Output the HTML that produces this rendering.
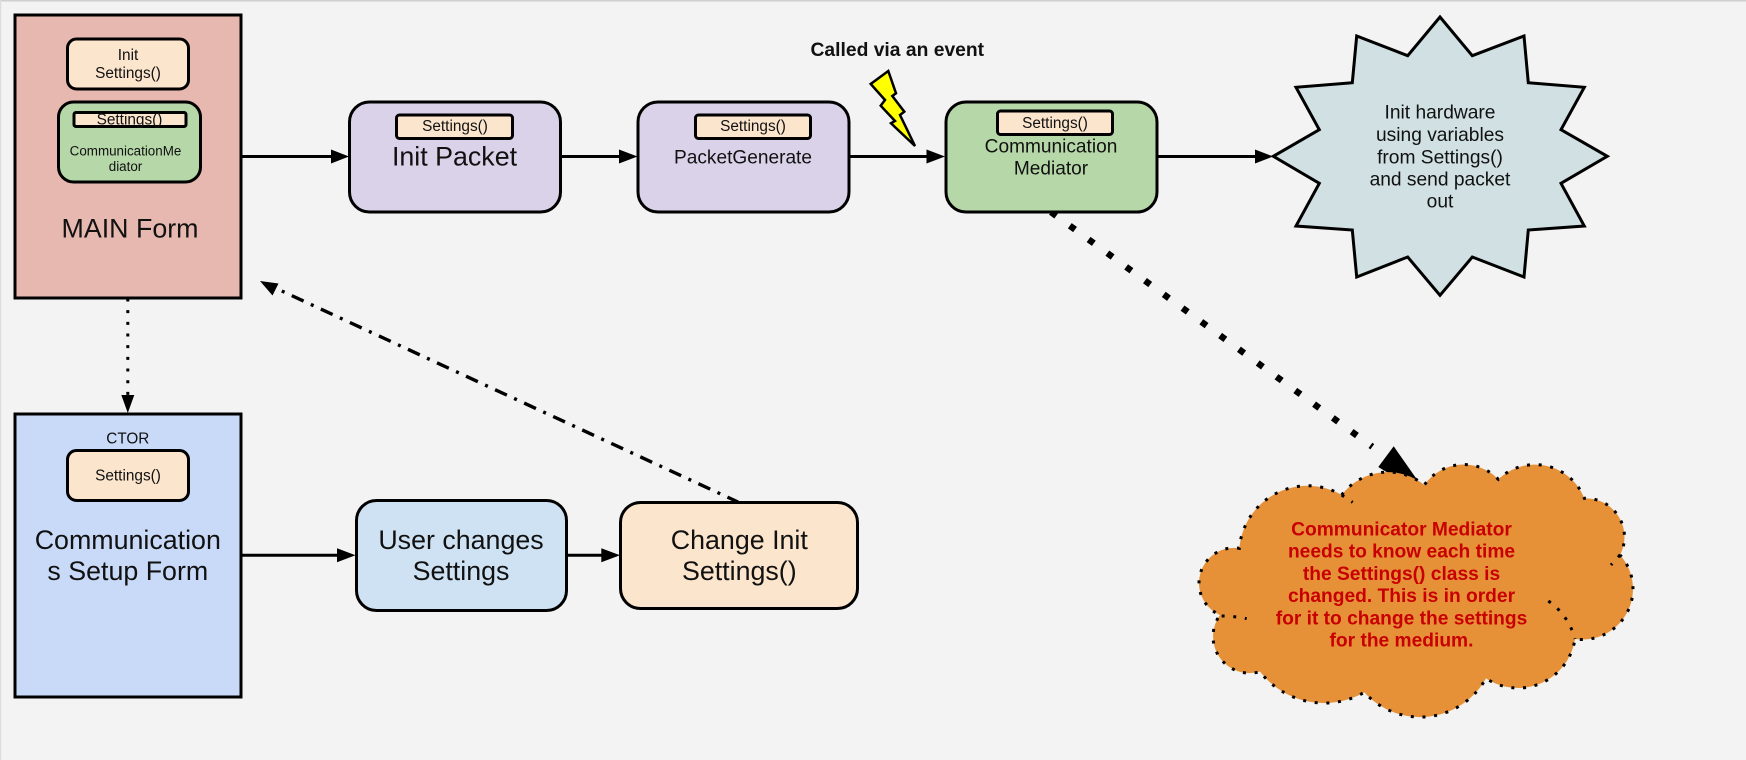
<!DOCTYPE html>
<html><head><meta charset="utf-8">
<style>
html,body{margin:0;padding:0;background:#f3f3f3;width:1746px;height:760px;overflow:hidden}
svg{display:block;filter:blur(0.35px)}
text{font-family:"Liberation Sans",Arial,sans-serif;fill:#111;text-anchor:middle}
</style></head>
<body>
<svg width="1746" height="760" viewBox="0 0 1746 760" xmlns="http://www.w3.org/2000/svg">
<rect width="1746" height="760" fill="#f3f3f3"/>
<rect x="0" y="0" width="1746" height="1.5" fill="#cfcfcf"/>
<rect x="0" y="0" width="1.2" height="760" fill="#dcdcdc"/>

<!-- connectors -->
<g stroke="#000" stroke-width="3" fill="none">
<path d="M241 156.5H335"/><path d="M560 156.5H625"/><path d="M849 156.5H932"/><path d="M1157 156.5H1260"/>
<path d="M241 555.3H342"/><path d="M566 555.3H606"/>
</g>
<g fill="#000">
<path d="M331 149.5L349 156.5L331 163.5Z"/>
<path d="M619 149.5L637.5 156.5L619 163.5Z"/>
<path d="M926.5 149.5L945 156.5L926.5 163.5Z"/>
<path d="M1255 149.5L1273 156.5L1255 163.5Z"/>
<path d="M337 548.3L355.5 555.3L337 562.3Z"/>
<path d="M601.3 548.3L620 555.3L601.3 562.3Z"/>
<path d="M121.3 395L127.8 413L134.3 395Z"/>
<path d="M260 281L272.5 295.5L278.5 283.5Z"/>
<path d="M1378.3 467L1393.7 446.3L1418 481L1400 480Z"/>
</g>
<path d="M127.8 298.5V396" stroke="#000" stroke-width="3" stroke-dasharray="3 8.67" fill="none"/>
<path d="M281.8 291L738 502" stroke="#000" stroke-width="3.4" stroke-dasharray="3 8 13 8" fill="none"/>
<path d="M1051 212L1372.3 446.7" stroke="#000" stroke-width="6.5" stroke-dasharray="6.5 16.77" fill="none"/>

<!-- main form -->
<rect x="15" y="15" width="226" height="283" fill="#e6b8af" stroke="#000" stroke-width="3"/>
<rect x="67.5" y="39" width="121" height="50" rx="9" fill="#fce5cd" stroke="#000" stroke-width="3"/>
<text font-size="15.4" x="128" y="60">Init</text>
<text font-size="15.4" x="128" y="78">Settings()</text>
<rect x="58.5" y="102" width="142" height="80" rx="15" fill="#b6d7a8" stroke="#000" stroke-width="3"/>
<rect x="74" y="112.5" width="112" height="14" rx="2" fill="#fce5cd" stroke="#000" stroke-width="3"/>
<text font-size="15.4" x="129.5" y="124.5">Settings()</text>
<text font-size="13.4" x="125.5" y="155.5">CommunicationMe</text>
<text font-size="13.4" x="125.5" y="171">diator</text>
<text font-size="26.8" x="130" y="237.5">MAIN Form</text>

<!-- init packet -->
<rect x="349.5" y="102" width="211" height="110" rx="20" fill="#d9d2e9" stroke="#000" stroke-width="3"/>
<rect x="396.5" y="115" width="116" height="23.5" rx="3" fill="#fce5cd" stroke="#000" stroke-width="3"/>
<text font-size="15.4" x="455" y="131">Settings()</text>
<text font-size="26.8" x="454.5" y="165.5">Init Packet</text>

<!-- packet generate -->
<rect x="638" y="102" width="211" height="110" rx="20" fill="#d9d2e9" stroke="#000" stroke-width="3"/>
<rect x="695.5" y="115" width="115" height="23.5" rx="3" fill="#fce5cd" stroke="#000" stroke-width="3"/>
<text font-size="15.4" x="753" y="131">Settings()</text>
<text font-size="19.1" x="743" y="163.5">PacketGenerate</text>

<!-- event -->
<text font-weight="bold" x="897.3" y="56" style="font-size:19.3px">Called via an event</text>
<path d="M888.3 71L896 93.3L892.3 96L904.3 111.7L900 115L915 146L891 123.3L895 121L880.7 105.7L885 100L870.7 84Z" fill="#ffff00" stroke="#000" stroke-width="2.5" stroke-linejoin="miter"/>

<!-- mediator -->
<rect x="946" y="102" width="211" height="110" rx="20" fill="#b6d7a8" stroke="#000" stroke-width="3"/>
<rect x="997.5" y="111" width="115" height="23.5" rx="3" fill="#fce5cd" stroke="#000" stroke-width="3"/>
<text font-size="15.4" x="1055" y="128">Settings()</text>
<text font-size="19.1" x="1051" y="152.5">Communication</text>
<text font-size="19.1" x="1051" y="174.5">Mediator</text>

<!-- star -->
<path d="M1440 17L1472.3 55.7L1524 36L1528.3 82.7L1584.3 87.3L1561 129.7L1607.3 156.3L1561 183.3L1584.3 226L1528.3 230L1524 277L1472.3 257L1440 295.3L1407.7 257L1356.7 277L1352.3 230L1296 226L1319.3 183.3L1273.3 156.3L1319.3 129.7L1296 87.3L1352.3 82.7L1356.7 36L1407.7 55.7Z" fill="#d0e0e3" stroke="#000" stroke-width="3"/>
<g font-size="19.2">
<text x="1440" y="118.5">Init hardware</text>
<text x="1440" y="141">using variables</text>
<text x="1440" y="163.5">from Settings()</text>
<text x="1440" y="185.5">and send packet</text>
<text x="1440" y="207.5">out</text>
</g>

<!-- cloud -->
<g transform="translate(1180 440) scale(0.33333)">
<path d="M485 165A174 174 0 0 1 733 135A144 144 0 0 1 955 118A159 159 0 0 1 1213 175A116 116 0 0 1 1320 345A152 152 0 0 1 1185 597A173 173 0 0 1 918 715A226 226 0 0 1 553 757A243 243 0 0 1 240 695A110 110 0 0 1 120 525A105 105 0 0 1 178 325A205 205 0 0 1 485 165Z" fill="#e69138" stroke="#000" stroke-width="9" stroke-dasharray="9 26"/>
<g fill="none" stroke="#000" stroke-width="9" stroke-dasharray="9 26">
<path d="M1105 483Q1165 525 1185 597"/>
<path d="M125 528Q160 528 200 536"/>
<path d="M485 165L518 187"/>
<path d="M1320 345L1293 375"/>
</g>
</g>
<g font-size="19.2" font-weight="bold">
<text style="fill:#c80000" x="1401.5" y="535.5">Communicator Mediator</text>
<text style="fill:#c80000" x="1401.5" y="557.5">needs to know each time</text>
<text style="fill:#c80000" x="1401.5" y="580">the Settings() class is</text>
<text style="fill:#c80000" x="1401.5" y="602">changed. This is in order</text>
<text style="fill:#c80000" x="1401.5" y="624.5">for it to change the settings</text>
<text style="fill:#c80000" x="1401.5" y="646.5">for the medium.</text>
</g>

<!-- setup form -->
<rect x="15" y="414" width="226" height="283" fill="#c9daf8" stroke="#000" stroke-width="3"/>
<text font-size="15.3" x="127.8" y="443.5">CTOR</text>
<rect x="67.5" y="450.5" width="121" height="50" rx="9" fill="#fce5cd" stroke="#000" stroke-width="3"/>
<text font-size="15.4" x="128" y="480.5">Settings()</text>
<text font-size="26.8" x="127.8" y="549">Communication</text>
<text font-size="26.8" x="127.8" y="580">s Setup Form</text>

<!-- user changes -->
<rect x="356.5" y="500.5" width="210" height="110" rx="20" fill="#cfe2f3" stroke="#000" stroke-width="3"/>
<text font-size="26.8" x="461" y="549">User changes</text>
<text font-size="26.8" x="461" y="580">Settings</text>

<!-- change init -->
<rect x="620.5" y="502.5" width="237" height="106" rx="20" fill="#fce5cd" stroke="#000" stroke-width="3"/>
<text font-size="26.8" x="739.3" y="549">Change Init</text>
<text font-size="26.8" x="739.3" y="580">Settings()</text>
</svg>
</body></html>
